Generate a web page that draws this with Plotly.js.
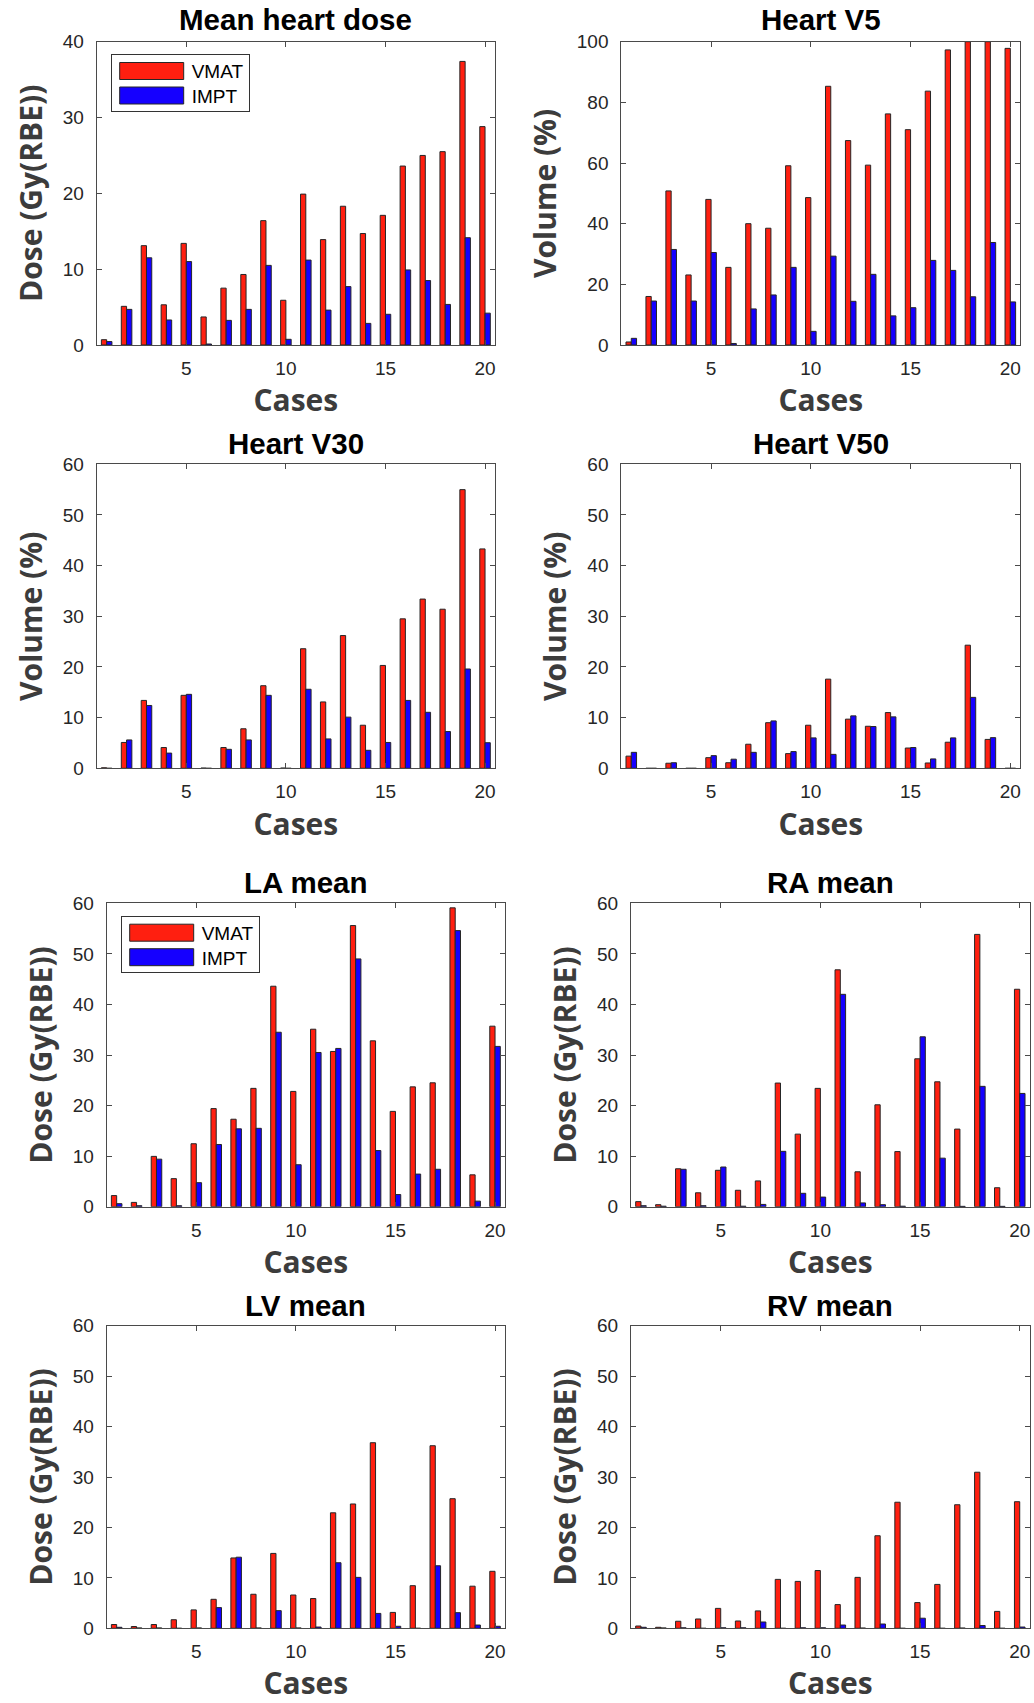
<!DOCTYPE html>
<html>
<head>
<meta charset="utf-8">
<script src="https://cdn.plot.ly/plotly-3.0.1.min.js"></script>
<style>
  html, body { margin: 0; padding: 0; background: #fff; }
  #chart { width: 1034px; height: 1703px; }
</style>
</head>
<body>
<div id="chart"></div>
<script>
// ---------------- DATA ----------------
var cases = [1,2,3,4,5,6,7,8,9,10,11,12,13,14,15,16,17,18,19,20];
var seriesNames = ["VMAT", "IMPT"];
var panelTitles = ["Mean heart dose", "Heart V5", "Heart V30", "Heart V50", "LA mean", "RA mean", "LV mean", "RV mean"];
var yTitles = ["Dose (Gy(RBE))", "Volume (%)", "Volume (%)", "Volume (%)", "Dose (Gy(RBE))", "Dose (Gy(RBE))", "Dose (Gy(RBE))", "Dose (Gy(RBE))"];
var xTitle = "Cases";
var xTickVals = [5, 10, 15, 20];

var meanHeartVMAT = [0.7, 5.1, 13.1, 5.3, 13.4, 3.7, 7.5, 9.3, 16.4, 5.9, 19.9, 13.9, 18.3, 14.7, 17.1, 23.6, 25.0, 25.5, 37.4, 28.8];
var meanHeartIMPT = [0.45, 4.7, 11.5, 3.3, 11.0, 0.13, 3.25, 4.7, 10.5, 0.75, 11.2, 4.6, 7.7, 2.85, 4.05, 9.9, 8.5, 5.35, 14.15, 4.2];

var heartV5VMAT = [1.0, 16.0, 50.8, 23.1, 48.0, 25.6, 40.0, 38.5, 59.1, 48.6, 85.3, 67.4, 59.3, 76.2, 71.0, 83.7, 97.3, 100, 100, 97.8];
var heartV5IMPT = [2.2, 14.5, 31.5, 14.5, 30.5, 0.5, 11.9, 16.5, 25.6, 4.5, 29.3, 14.4, 23.3, 9.6, 12.3, 27.9, 24.6, 15.9, 33.8, 14.2];

var heartV30VMAT = [0.1, 5.1, 13.4, 4.1, 14.4, 0.05, 4.1, 7.8, 16.3, 0.05, 23.6, 13.1, 26.2, 8.5, 20.3, 29.5, 33.4, 31.4, 55.0, 43.3];
var heartV30IMPT = [0, 5.6, 12.4, 3.0, 14.6, 0, 3.75, 5.6, 14.4, 0, 15.6, 5.8, 10.1, 3.55, 5.1, 13.4, 11.05, 7.25, 19.6, 5.05];

var heartV50VMAT = [2.4, 0, 1.0, 0, 2.1, 1.1, 4.75, 9.0, 2.9, 8.5, 17.6, 9.7, 8.3, 11.0, 4.0, 1.05, 5.15, 24.3, 5.7, 0];
var heartV50IMPT = [3.15, 0, 1.1, 0, 2.5, 1.8, 3.15, 9.35, 3.3, 6.0, 2.75, 10.35, 8.25, 10.15, 4.1, 1.85, 6.0, 14.0, 6.05, 0];

var laMeanVMAT = [2.2, 0.85, 9.95, 5.55, 12.45, 19.4, 17.3, 23.4, 43.6, 22.8, 35.1, 30.7, 55.6, 32.8, 18.85, 23.7, 24.5, 59.1, 6.3, 35.7];
var laMeanIMPT = [0.6, 0.2, 9.4, 0.2, 4.75, 12.3, 15.4, 15.5, 34.5, 8.3, 30.5, 31.3, 49.0, 11.1, 2.4, 6.45, 7.4, 54.6, 1.1, 31.7];

var raMeanVMAT = [1.0, 0.4, 7.5, 2.75, 7.2, 3.25, 5.1, 24.45, 14.35, 23.4, 46.85, 6.9, 20.15, 10.9, 29.25, 24.7, 15.35, 53.85, 3.75, 43.0];
var raMeanIMPT = [0.2, 0.1, 7.4, 0.2, 7.85, 0.1, 0.45, 10.95, 2.65, 1.9, 42.0, 0.75, 0.4, 0.1, 33.6, 9.6, 0.07, 23.8, 0.07, 22.4];

var lvMeanVMAT = [0.75, 0.35, 0.75, 1.7, 3.65, 5.75, 13.95, 6.75, 14.85, 6.6, 5.9, 22.9, 24.65, 36.8, 3.15, 8.45, 36.2, 25.7, 8.35, 11.3];
var lvMeanIMPT = [0.2, 0.07, 0.07, 0, 0.07, 4.1, 14.1, 0.07, 3.5, 0.07, 0.25, 13.0, 10.1, 2.95, 0.4, 0, 12.4, 3.1, 0.65, 0.4];

var rvMeanVMAT = [0.45, 0.2, 1.4, 1.85, 3.95, 1.45, 3.45, 9.7, 9.3, 11.45, 4.7, 10.1, 18.35, 25.0, 5.1, 8.7, 24.5, 30.95, 3.35, 25.1];
var rvMeanIMPT = [0.2, 0.07, 0.1, 0, 0.1, 0.1, 1.25, 0, 0.1, 0.1, 0.65, 0.05, 0.85, 0, 2.0, 0, 0.05, 0.55, 0, 0.25];

var vmatSeries = [meanHeartVMAT, heartV5VMAT, heartV30VMAT, heartV50VMAT, laMeanVMAT, raMeanVMAT, lvMeanVMAT, rvMeanVMAT];
var imptSeries = [meanHeartIMPT, heartV5IMPT, heartV30IMPT, heartV50IMPT, laMeanIMPT, raMeanIMPT, lvMeanIMPT, rvMeanIMPT];
var yMax = [40, 100, 60, 60, 60, 60, 60, 60];
var yStep = [10, 20, 10, 10, 10, 10, 10, 10];

// ---------------- LAYOUT (pixel boxes of each plot area) ----------------
var W = 1034, H = 1703;
var boxes = [
  {l: 96.7, r: 495, t: 41.7, b: 345},
  {l: 621.3, r: 1020.3, t: 41.7, b: 345},
  {l: 96.7, r: 495, t: 464.3, b: 768.3},
  {l: 621.3, r: 1020.3, t: 464.3, b: 768.3},
  {l: 106.7, r: 505, t: 903.3, b: 1206.7},
  {l: 631, r: 1029.7, t: 903.3, b: 1206.7},
  {l: 106.7, r: 505, t: 1325.7, b: 1628.3},
  {l: 631, r: 1029.7, t: 1325.7, b: 1628.3}
];
var titleY = [20, 20, 443, 443, 882.7, 882.7, 1305, 1305];

var RED = '#ff1f10';
var BLUE = '#1500ff';
var EDGE = '#262626';
var AXIS = '#4a4a4a';
var TICKFONT = {family: 'Liberation Sans, Arial, sans-serif', size: 19, color: '#262626'};
var AXTITLEFONT = {family: 'Open Sans, Liberation Sans, sans-serif', size: 30, weight: 700, color: '#3c3c3c'};
var TITLEFONT = {family: 'Liberation Sans, Arial, sans-serif', size: 29.5, weight: 700, color: '#000'};

var traces = [];
var layout = {
  width: W, height: H,
  margin: {l: 0, r: 0, t: 0, b: 0},
  paper_bgcolor: '#fff', plot_bgcolor: '#fff',
  barmode: 'group', bargap: 0.47, bargroupgap: 0,
  showlegend: true,
  annotations: []
};

for (var i = 0; i < 8; i++) {
  var n = i + 1;
  var xa = 'x' + (n === 1 ? '' : n), ya = 'y' + (n === 1 ? '' : n);
  var legendName = (i === 4) ? 'legend2' : 'legend';
  var showLeg = (i === 0 || i === 4);
  traces.push({
    type: 'bar', x: cases, y: vmatSeries[i], name: seriesNames[0],
    xaxis: xa, yaxis: ya, legend: legendName, showlegend: showLeg,
    marker: {color: RED, line: {color: EDGE, width: 1}}, hoverinfo: 'x+y+name'
  });
  traces.push({
    type: 'bar', x: cases, y: imptSeries[i], name: seriesNames[1],
    xaxis: xa, yaxis: ya, legend: legendName, showlegend: showLeg,
    marker: {color: BLUE, line: {color: EDGE, width: 1}}, hoverinfo: 'x+y+name'
  });
  var bx = boxes[i];
  var yticks = [];
  for (var v = 0; v <= yMax[i]; v += yStep[i]) yticks.push(v);
  layout['xaxis' + (n === 1 ? '' : n)] = {
    domain: [bx.l / W, bx.r / W], anchor: ya,
    range: [0.5, 20.5], tickvals: xTickVals, ticktext: xTickVals.map(String),
    ticks: 'inside', ticklen: 5, tickwidth: 1, tickcolor: AXIS,
    showline: true, linecolor: AXIS, linewidth: 1, mirror: 'ticks',
    showgrid: false, zeroline: false, tickfont: TICKFONT, ticklabelstandoff: 6,
    title: {text: xTitle, font: AXTITLEFONT, standoff: 12}
  };
  layout['yaxis' + (n === 1 ? '' : n)] = {
    domain: [1 - bx.b / H, 1 - bx.t / H], anchor: xa,
    range: [0, yMax[i]], tickvals: yticks, ticktext: yticks.map(String),
    ticks: 'inside', ticklen: 5, tickwidth: 1, tickcolor: AXIS,
    showline: true, linecolor: AXIS, linewidth: 1, mirror: 'ticks',
    showgrid: false, zeroline: false, tickfont: TICKFONT, ticklabelstandoff: 8,
    title: {text: yTitles[i], font: AXTITLEFONT, standoff: 11}
  };
  layout.annotations.push({
    text: panelTitles[i], xref: 'paper', yref: 'paper',
    x: (bx.l + bx.r) / 2 / W, y: 1 - titleY[i] / H,
    xanchor: 'center', yanchor: 'middle', showarrow: false, font: TITLEFONT
  });
}

var legendCommon = {
  xanchor: 'left', yanchor: 'top',
  bgcolor: '#fff', bordercolor: '#333', borderwidth: 1,
  font: {family: 'Liberation Sans, Arial, sans-serif', size: 19, color: '#000'},
  itemwidth: 70, tracegroupgap: 0, traceorder: 'normal', orientation: 'v'
};
layout.legend = Object.assign({}, legendCommon, {x: 110.7 / W, y: 1 - 54.3 / H});
layout.legend2 = Object.assign({}, legendCommon, {x: 120.7 / W, y: 1 - 916 / H});

function fixLegend(g) {
  var bg = g.querySelector('rect.bg');
  var items = g.querySelectorAll('g.traces');
  if (!bg || items.length === 0) return;
  var bgTop = bg.getBoundingClientRect().top;
  items.forEach(function (it, k) {
    var sw = it.querySelector('.legendpoints path');
    if (!sw) return;
    sw.setAttribute('d', 'M-32,-8.5H32V8.5H-32Z');
    var r = sw.getBoundingClientRect();
    var c = (r.top + r.bottom) / 2;
    var desired = bgTop + 16.2 + k * 24.5;
    var m = /translate\(\s*([-\d.]+)[ ,]+([-\d.]+)\s*\)/.exec(it.getAttribute('transform') || '');
    var tx = m ? parseFloat(m[1]) : 0, ty = m ? parseFloat(m[2]) : 0;
    it.setAttribute('transform', 'translate(' + tx + ',' + (ty + desired - c) + ')');
  });
  bg.setAttribute('height', 56.4);
}

Plotly.newPlot('chart', traces, layout, {staticPlot: true, displayModeBar: false}).then(function () {
  var groups = document.querySelectorAll('g.infolayer > g');
  groups.forEach(function (g) {
    var cls = g.getAttribute('class') || '';
    if (/^legend/.test(cls)) fixLegend(g);
  });
});
</script>
</body>
</html>
